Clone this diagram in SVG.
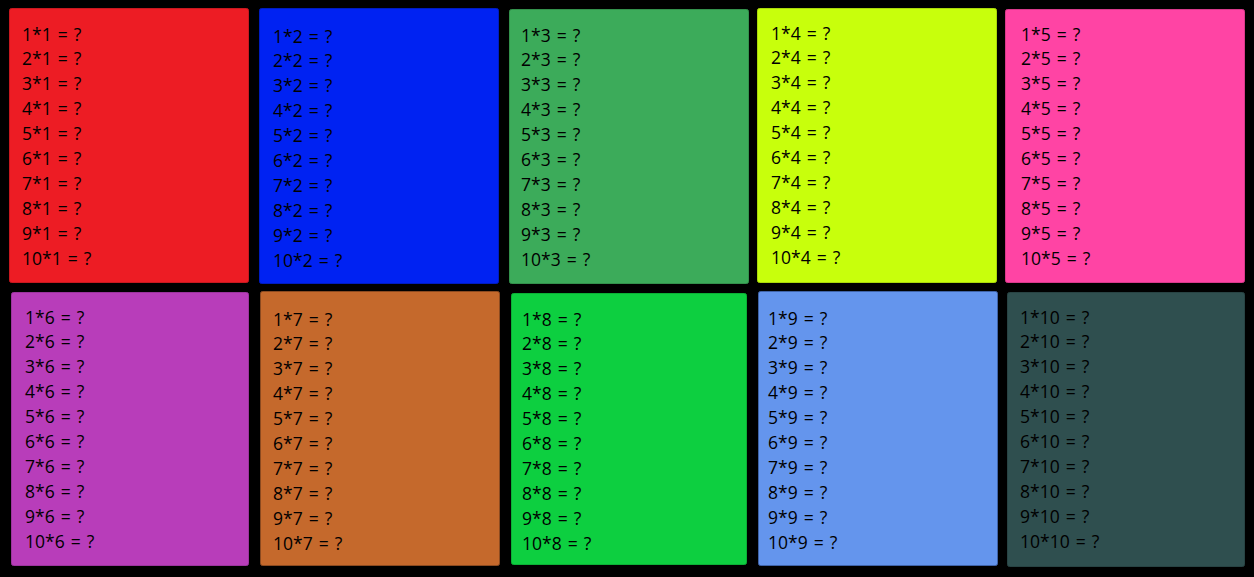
<svg xmlns="http://www.w3.org/2000/svg" width="1254" height="577" viewBox="0 0 1254 577">
<style>
.box{stroke-width:1}
text{font-family:"Open Sans","Noto Sans","Liberation Sans",sans-serif;font-size:17.5px;word-spacing:1.5px;fill:#000}
</style>
<rect x="0" y="0" width="1254" height="577" fill="#000"/>
<g id="t1"><rect class="box" x="9.5" y="8.5" width="239" height="274" rx="2" fill="#ED1C24" stroke="#c8181f"/>
<text x="22" y="40.5"><tspan x="22" dy="0">1*1 = ?</tspan><tspan x="22" dy="24.9">2*1 = ?</tspan><tspan x="22" dy="24.9">3*1 = ?</tspan><tspan x="22" dy="24.9">4*1 = ?</tspan><tspan x="22" dy="24.9">5*1 = ?</tspan><tspan x="22" dy="24.9">6*1 = ?</tspan><tspan x="22" dy="24.9">7*1 = ?</tspan><tspan x="22" dy="24.9">8*1 = ?</tspan><tspan x="22" dy="24.9">9*1 = ?</tspan><tspan x="22" dy="24.9">10*1 = ?</tspan></text></g>
<g id="t2"><rect class="box" x="259.5" y="8.5" width="239" height="275" rx="2" fill="#0022F2" stroke="#001cc0"/>
<text x="273" y="42.5"><tspan x="273" dy="0">1*2 = ?</tspan><tspan x="273" dy="24.9">2*2 = ?</tspan><tspan x="273" dy="24.9">3*2 = ?</tspan><tspan x="273" dy="24.9">4*2 = ?</tspan><tspan x="273" dy="24.9">5*2 = ?</tspan><tspan x="273" dy="24.9">6*2 = ?</tspan><tspan x="273" dy="24.9">7*2 = ?</tspan><tspan x="273" dy="24.9">8*2 = ?</tspan><tspan x="273" dy="24.9">9*2 = ?</tspan><tspan x="273" dy="24.9">10*2 = ?</tspan></text></g>
<g id="t3"><rect class="box" x="509.5" y="9.5" width="239" height="274" rx="2" fill="#3CAB5A" stroke="#33914c"/>
<text x="521" y="41.5"><tspan x="521" dy="0">1*3 = ?</tspan><tspan x="521" dy="24.9">2*3 = ?</tspan><tspan x="521" dy="24.9">3*3 = ?</tspan><tspan x="521" dy="24.9">4*3 = ?</tspan><tspan x="521" dy="24.9">5*3 = ?</tspan><tspan x="521" dy="24.9">6*3 = ?</tspan><tspan x="521" dy="24.9">7*3 = ?</tspan><tspan x="521" dy="24.9">8*3 = ?</tspan><tspan x="521" dy="24.9">9*3 = ?</tspan><tspan x="521" dy="24.9">10*3 = ?</tspan></text></g>
<g id="t4"><rect class="box" x="757.5" y="8.5" width="239" height="274" rx="2" fill="#C8FF0C" stroke="#aad90a"/>
<text x="771" y="39.5"><tspan x="771" dy="0">1*4 = ?</tspan><tspan x="771" dy="24.9">2*4 = ?</tspan><tspan x="771" dy="24.9">3*4 = ?</tspan><tspan x="771" dy="24.9">4*4 = ?</tspan><tspan x="771" dy="24.9">5*4 = ?</tspan><tspan x="771" dy="24.9">6*4 = ?</tspan><tspan x="771" dy="24.9">7*4 = ?</tspan><tspan x="771" dy="24.9">8*4 = ?</tspan><tspan x="771" dy="24.9">9*4 = ?</tspan><tspan x="771" dy="24.9">10*4 = ?</tspan></text></g>
<g id="t5"><rect class="box" x="1005.5" y="9.5" width="239" height="273" rx="2" fill="#FF44A4" stroke="#d9398b"/>
<text x="1021" y="40.5"><tspan x="1021" dy="0">1*5 = ?</tspan><tspan x="1021" dy="24.9">2*5 = ?</tspan><tspan x="1021" dy="24.9">3*5 = ?</tspan><tspan x="1021" dy="24.9">4*5 = ?</tspan><tspan x="1021" dy="24.9">5*5 = ?</tspan><tspan x="1021" dy="24.9">6*5 = ?</tspan><tspan x="1021" dy="24.9">7*5 = ?</tspan><tspan x="1021" dy="24.9">8*5 = ?</tspan><tspan x="1021" dy="24.9">9*5 = ?</tspan><tspan x="1021" dy="24.9">10*5 = ?</tspan></text></g>
<g id="t6"><rect class="box" x="11.5" y="292.5" width="237" height="273" rx="2" fill="#B83DBA" stroke="#9c349e"/>
<text x="25" y="323.5"><tspan x="25" dy="0">1*6 = ?</tspan><tspan x="25" dy="24.9">2*6 = ?</tspan><tspan x="25" dy="24.9">3*6 = ?</tspan><tspan x="25" dy="24.9">4*6 = ?</tspan><tspan x="25" dy="24.9">5*6 = ?</tspan><tspan x="25" dy="24.9">6*6 = ?</tspan><tspan x="25" dy="24.9">7*6 = ?</tspan><tspan x="25" dy="24.9">8*6 = ?</tspan><tspan x="25" dy="24.9">9*6 = ?</tspan><tspan x="25" dy="24.9">10*6 = ?</tspan></text></g>
<g id="t7"><rect class="box" x="260.5" y="291.5" width="239" height="274" rx="2" fill="#C5692C" stroke="#8b4a20"/>
<text x="273" y="325.5"><tspan x="273" dy="0">1*7 = ?</tspan><tspan x="273" dy="24.9">2*7 = ?</tspan><tspan x="273" dy="24.9">3*7 = ?</tspan><tspan x="273" dy="24.9">4*7 = ?</tspan><tspan x="273" dy="24.9">5*7 = ?</tspan><tspan x="273" dy="24.9">6*7 = ?</tspan><tspan x="273" dy="24.9">7*7 = ?</tspan><tspan x="273" dy="24.9">8*7 = ?</tspan><tspan x="273" dy="24.9">9*7 = ?</tspan><tspan x="273" dy="24.9">10*7 = ?</tspan></text></g>
<g id="t8"><rect class="box" x="511.5" y="293.5" width="235" height="271" rx="2" fill="#0DCF40" stroke="#0bb036"/>
<text x="522" y="325.5"><tspan x="522" dy="0">1*8 = ?</tspan><tspan x="522" dy="24.9">2*8 = ?</tspan><tspan x="522" dy="24.9">3*8 = ?</tspan><tspan x="522" dy="24.9">4*8 = ?</tspan><tspan x="522" dy="24.9">5*8 = ?</tspan><tspan x="522" dy="24.9">6*8 = ?</tspan><tspan x="522" dy="24.9">7*8 = ?</tspan><tspan x="522" dy="24.9">8*8 = ?</tspan><tspan x="522" dy="24.9">9*8 = ?</tspan><tspan x="522" dy="24.9">10*8 = ?</tspan></text></g>
<g id="t9"><rect class="box" x="758.5" y="291.5" width="239" height="274" rx="2" fill="#6495ED" stroke="#3f63a8"/>
<text x="768" y="324.5"><tspan x="768" dy="0">1*9 = ?</tspan><tspan x="768" dy="24.9">2*9 = ?</tspan><tspan x="768" dy="24.9">3*9 = ?</tspan><tspan x="768" dy="24.9">4*9 = ?</tspan><tspan x="768" dy="24.9">5*9 = ?</tspan><tspan x="768" dy="24.9">6*9 = ?</tspan><tspan x="768" dy="24.9">7*9 = ?</tspan><tspan x="768" dy="24.9">8*9 = ?</tspan><tspan x="768" dy="24.9">9*9 = ?</tspan><tspan x="768" dy="24.9">10*9 = ?</tspan></text></g>
<g id="t10"><rect class="box" x="1007.5" y="292.5" width="237" height="274" rx="2" fill="#2F4F4F" stroke="#284343"/>
<text x="1020" y="323.5"><tspan x="1020" dy="0">1*10 = ?</tspan><tspan x="1020" dy="24.9">2*10 = ?</tspan><tspan x="1020" dy="24.9">3*10 = ?</tspan><tspan x="1020" dy="24.9">4*10 = ?</tspan><tspan x="1020" dy="24.9">5*10 = ?</tspan><tspan x="1020" dy="24.9">6*10 = ?</tspan><tspan x="1020" dy="24.9">7*10 = ?</tspan><tspan x="1020" dy="24.9">8*10 = ?</tspan><tspan x="1020" dy="24.9">9*10 = ?</tspan><tspan x="1020" dy="24.9">10*10 = ?</tspan></text></g>
<g id="connectors"></g>
</svg>
